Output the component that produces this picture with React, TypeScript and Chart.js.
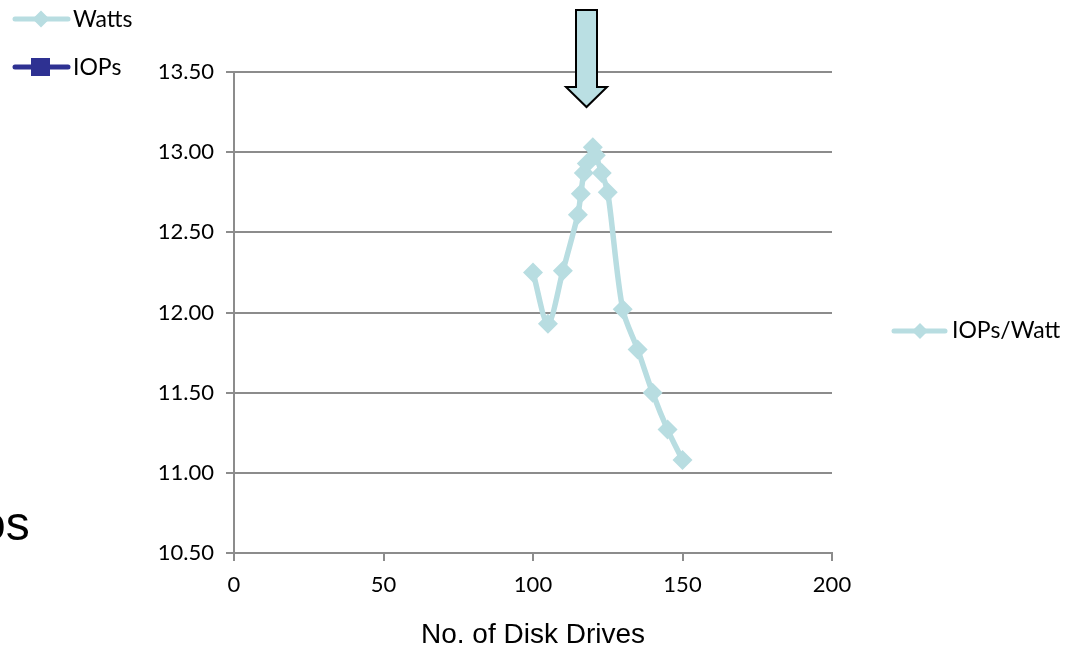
import React, { useEffect, useRef } from "react";
import { Chart, registerables } from "chart.js";

Chart.register(...registerables);

// Number of disk drives in the array and the measured IOPs per Watt
const drives = [100, 105, 110, 115, 116, 117, 118, 120, 121, 123, 125, 130, 135, 140, 145, 150];
const iopsPerWatt = [12.25, 11.93, 12.26, 12.61, 12.74, 12.87, 12.93, 13.03, 12.98, 12.87, 12.75, 12.02, 11.77, 11.5, 11.27, 11.08];

const xTicks = [0, 50, 100, 150, 200];
const yTicks = [10.5, 11.0, 11.5, 12.0, 12.5, 13.0, 13.5];

const seriesLabel = "IOPs/Watt";
const otherSeries = ["Watts", "IOPs"];
const xTitle = "No. of Disk Drives";
const sideText = "os";

const LIGHT = "#b8dde1";
const DARK = "#2e3192";
const GRID = "#8c8c8c";
const TICK_FONT = "Lato, 'Open Sans', sans-serif";

function drawDiamond(ctx: CanvasRenderingContext2D, x: number, y: number, r: number, color: string) {
  ctx.beginPath();
  ctx.moveTo(x, y - r);
  ctx.lineTo(x + r, y);
  ctx.lineTo(x, y + r);
  ctx.lineTo(x - r, y);
  ctx.closePath();
  ctx.fillStyle = color;
  ctx.fill();
}

function legendLine(ctx: CanvasRenderingContext2D, x0: number, x1: number, y: number, color: string) {
  ctx.beginPath();
  ctx.moveTo(x0, y);
  ctx.lineTo(x1, y);
  ctx.strokeStyle = color;
  ctx.lineWidth = 5;
  ctx.lineCap = "round";
  ctx.stroke();
}

// Legends, the pointer arrow and the clipped side caption
const decorations = {
  id: "decorations",
  afterDraw(chart: Chart) {
    const ctx = chart.ctx;
    ctx.save();

    ctx.font = `23px ${TICK_FONT}`;
    ctx.textBaseline = "middle";
    ctx.textAlign = "left";

    // Watts
    legendLine(ctx, 15, 68, 19, LIGHT);
    drawDiamond(ctx, 41, 19, 8.5, LIGHT);
    ctx.fillStyle = "#000";
    ctx.fillText(otherSeries[0], 73, 20);

    // IOPs
    legendLine(ctx, 15, 68, 67, DARK);
    ctx.fillStyle = DARK;
    ctx.fillRect(31, 58, 19, 18);
    ctx.fillStyle = "#000";
    ctx.fillText(otherSeries[1], 73, 68);

    // IOPs/Watt
    legendLine(ctx, 894, 945, 331, LIGHT);
    drawDiamond(ctx, 920, 331, 8, LIGHT);
    ctx.fillStyle = "#000";
    ctx.fillText(seriesLabel, 952, 331);

    // Down arrow above the peak
    ctx.beginPath();
    ctx.moveTo(576, 10);
    ctx.lineTo(597, 10);
    ctx.lineTo(597, 87);
    ctx.lineTo(607, 87);
    ctx.lineTo(586.5, 107);
    ctx.lineTo(566, 87);
    ctx.lineTo(576, 87);
    ctx.closePath();
    ctx.fillStyle = "#badfe3";
    ctx.fill();
    ctx.strokeStyle = "#000";
    ctx.lineWidth = 2;
    ctx.lineJoin = "miter";
    ctx.stroke();

    // Side caption, running off the left edge
    ctx.font = "48px 'Liberation Sans', Arial, sans-serif";
    ctx.textBaseline = "alphabetic";
    ctx.fillStyle = "#000";
    ctx.fillText(sideText, -21, 540);

    ctx.restore();
  },
};

export default function App() {
  const canvasRef = useRef<HTMLCanvasElement | null>(null);

  useEffect(() => {
    document.body.style.margin = "0";
    const canvas = canvasRef.current;
    if (!canvas) return;

    const chart = new Chart(canvas, {
      type: "line",
      data: {
        datasets: [
          {
            label: seriesLabel,
            data: drives.map((d, i) => ({ x: d, y: iopsPerWatt[i] })),
            borderColor: LIGHT,
            backgroundColor: LIGHT,
            borderWidth: 5.5,
            pointStyle: "rectRot",
            pointRadius: 10,
            pointBorderWidth: 0,
            pointBackgroundColor: LIGHT,
            tension: 0.3,
          },
        ],
      },
      options: {
        animation: false,
        responsive: false,
        devicePixelRatio: 1,
        layout: { padding: { top: 72, right: 252, left: 0, bottom: 0 } },
        plugins: {
          legend: { display: false },
          tooltip: { enabled: false },
        },
        scales: {
          x: {
            type: "linear",
            min: 0,
            max: 200,
            afterFit: (scale: any) => {
              scale.height = 94;
            },
            afterBuildTicks: (scale: any) => {
              scale.ticks = xTicks.map((v) => ({ value: v }));
            },
            ticks: {
              color: "#000",
              font: { family: TICK_FONT, size: 22 },
              padding: 11,
              maxRotation: 0,
            },
            grid: {
              drawOnChartArea: false,
              drawTicks: true,
              tickLength: 8,
              color: GRID,
              lineWidth: 2,
            },
            border: { color: GRID, width: 2 },
            title: {
              display: true,
              text: xTitle,
              color: "#000",
              font: { family: "'Liberation Sans', Arial, sans-serif", size: 28, lineHeight: 1 },
              padding: { top: 0, bottom: -2 },
            },
          },
          y: {
            type: "linear",
            min: 10.5,
            max: 13.5,
            afterFit: (scale: any) => {
              scale.width = 234;
            },
            afterBuildTicks: (scale: any) => {
              scale.ticks = yTicks.map((v) => ({ value: v }));
            },
            ticks: {
              color: "#000",
              font: { family: TICK_FONT, size: 22 },
              padding: 12,
              callback: (v: any) => Number(v).toFixed(2),
            },
            grid: {
              drawOnChartArea: true,
              drawTicks: true,
              tickLength: 8,
              color: GRID,
              lineWidth: 2,
            },
            border: { color: GRID, width: 2 },
          },
        },
      },
      plugins: [decorations],
    });

    return () => chart.destroy();
  }, []);

  return (
    <div style={{ width: 1084, height: 647, position: "relative" }}>
      <canvas ref={canvasRef} width={1084} height={647} style={{ display: "block" }} />
    </div>
  );
}
